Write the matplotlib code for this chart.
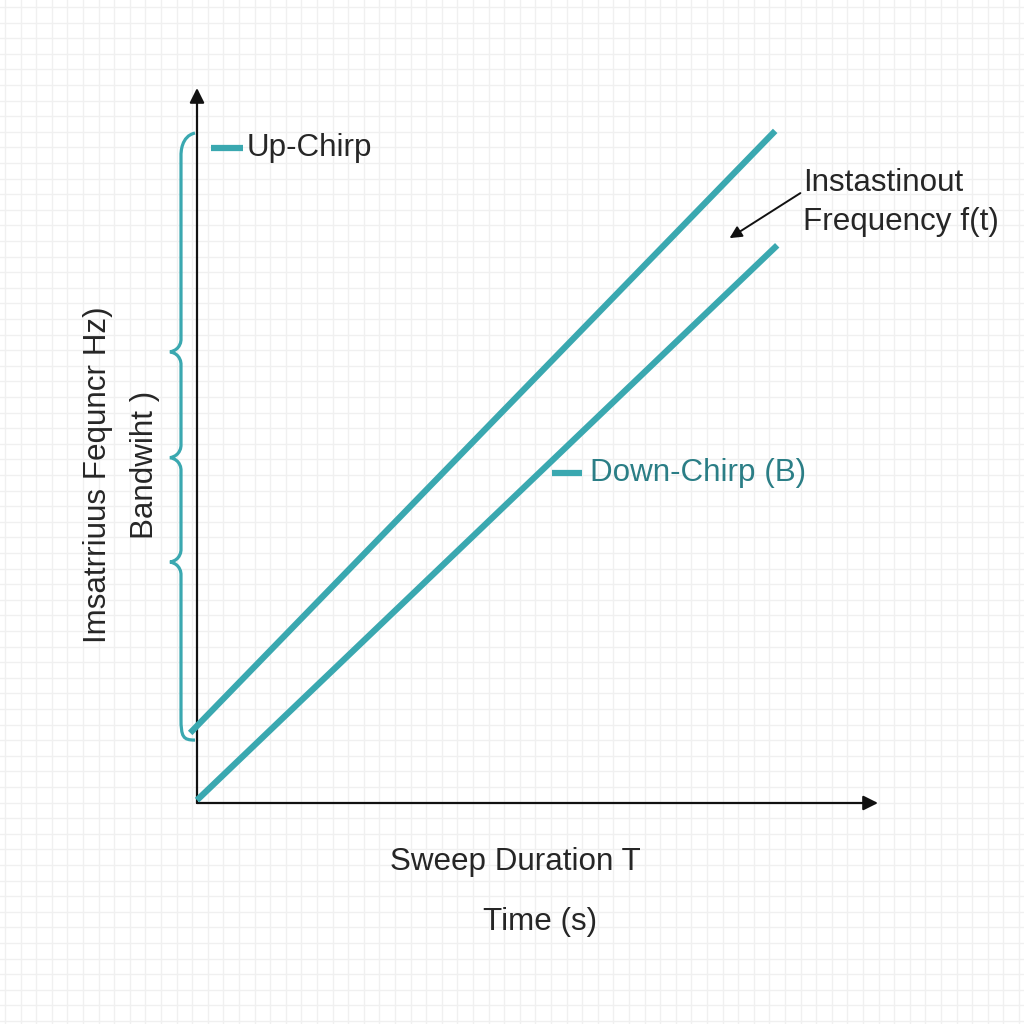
import numpy as np
import matplotlib
matplotlib.use("Agg")
import matplotlib.pyplot as plt
from matplotlib.path import Path
from matplotlib.patches import PathPatch

plt.rcParams['font.family'] = ['Liberation Sans', 'DejaVu Sans']

# data (normalised time / frequency, axis arrow tips at 1.0)
t_up = [-0.010, 0.849]
f_up = [0.098, 0.940]
t_down = [0.0, 0.852]
f_down = [0.004, 0.780]

# bandwidth brace span and cusps
brace_top = 0.937
brace_bottom = 0.088
brace_cusps = [0.631, 0.483, 0.337]

teal = '#3aa8b0'
teal_dark = '#2b7e86'
ink = '#262626'
fs = 22.6

fig = plt.figure(figsize=(10.24, 10.24), dpi=100)
ax = fig.add_axes([0, 0, 1, 1])
# pixel layout: origin at (197, 803), x tip at 878, y tip at 88
sx, sy = 681.0, 715.0
ax.set_xlim(-197 / sx, (1024 - 197) / sx)
ax.set_ylim(-(1024 - 803) / sy, 803 / sy)

# faint background grid
step = 15.6
ax.set_xticks(np.arange(-197 + 5, 1024 - 197, step) / sx)
ax.set_yticks(np.arange(-(1024 - 803) + 3, 803, step) / sy)
ax.tick_params(length=0, labelbottom=False, labelleft=False)
ax.grid(True, color='#f0f0f0', lw=1.0)
for s in ax.spines.values():
    s.set_visible(False)

# axes with arrows
ax.annotate('', xy=(0, 1.0), xytext=(0, 0),
            arrowprops=dict(arrowstyle='-|>', color='#111111', lw=1.6,
                            mutation_scale=22, shrinkA=0, shrinkB=0))
ax.annotate('', xy=(1.0, 0), xytext=(0, 0),
            arrowprops=dict(arrowstyle='-|>', color='#111111', lw=1.6,
                            mutation_scale=22, shrinkA=0, shrinkB=0))

# chirp lines
ax.plot(t_up, f_up, color=teal, lw=4.5, solid_capstyle='butt', zorder=3)
ax.plot(t_down, f_down, color=teal, lw=4.5, solid_capstyle='butt', zorder=3)

# bandwidth brace
xv = -16 / sx
xc = -27 / sx
xe = -2 / sx
dy = 12 / sy
verts = [(xe, brace_top), (xv, brace_top - 3 / sy), (xv, brace_top - 20 / sy), (xv, brace_top - 22 / sy)]
codes = [Path.MOVETO, Path.CURVE4, Path.CURVE4, Path.CURVE4]
for c in brace_cusps:
    verts += [(xv, c + dy), (xv, c + dy), (xv, c + 2 / sy), (xc, c),
              (xv, c - 2 / sy), (xv, c - dy), (xv, c - dy)]
    codes += [Path.LINETO, Path.CURVE4, Path.CURVE4, Path.CURVE4,
              Path.CURVE4, Path.CURVE4, Path.CURVE4]
verts += [(xv, brace_bottom + 22 / sy), (xv, brace_bottom + 3 / sy), (xv + 2 / sx, brace_bottom), (xe, brace_bottom)]
codes += [Path.LINETO, Path.CURVE4, Path.CURVE4, Path.CURVE4]
ax.add_patch(PathPatch(Path(verts, codes), fill=False, edgecolor=teal, lw=2.3, zorder=2))

# legend-like labels
ax.plot([14 / sx, 46 / sx], [0.916, 0.916], color=teal, lw=4.5, solid_capstyle='butt')
ax.text(50 / sx, 0.916, 'Up-Chirp', fontsize=fs, color=ink, va='center', ha='left')
ax.plot([355 / sx, 385 / sx], [0.4615, 0.4615], color=teal, lw=4.5, solid_capstyle='butt')
ax.text(393 / sx, 0.4615, 'Down-Chirp (B)', fontsize=fs, color=teal_dark, va='center', ha='left')

# annotation
ax.text(0.890, 0.840, 'Instastinout\nFrequency f(t)', fontsize=fs, color=ink,
        va='center', ha='left', linespacing=1.4)
ax.annotate('', xy=(0.782, 0.790), xytext=(0.886, 0.853),
            arrowprops=dict(arrowstyle='-|>', color='#111111', lw=1.4,
                            mutation_scale=18, shrinkA=0, shrinkB=0))

# axis labels
ax.text(-0.145, 0.459, 'Imsatrriuus Fequncr Hz)', fontsize=fs, color=ink,
        rotation=90, va='center', ha='center')
ax.text(-0.076, 0.473, 'Bandwiht )', fontsize=fs, color=ink,
        rotation=90, va='center', ha='center')
ax.text(0.467, -0.0825, 'Sweep Duration T', fontsize=fs, color=ink, va='center', ha='center')
ax.text(0.504, -0.166, 'Time (s)', fontsize=fs, color=ink, va='center', ha='center')

fig.savefig('out.png', dpi=100, facecolor='white')
